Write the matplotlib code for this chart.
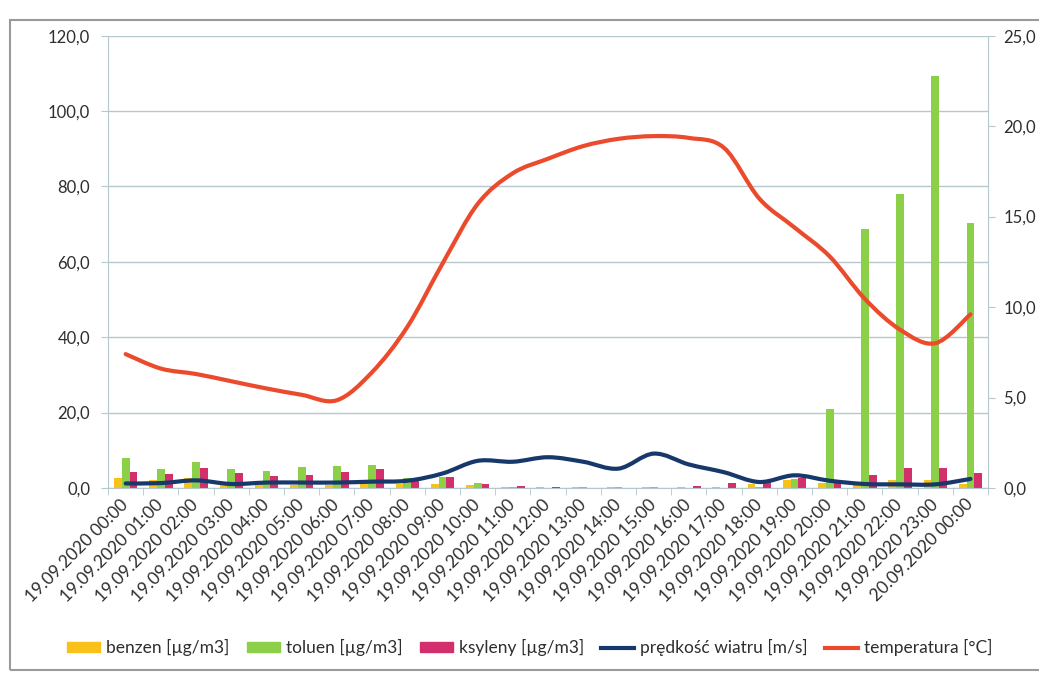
import numpy as np
import matplotlib
matplotlib.use("Agg")
import matplotlib.pyplot as plt
from matplotlib.path import Path
from matplotlib.patches import PathPatch, Patch, Rectangle
from matplotlib.lines import Line2D
from matplotlib.ticker import FuncFormatter

plt.rcParams['font.family'] = ['Lato', 'DejaVu Sans']

# data
labels = ["19.09.2020 %02d:00" % h for h in range(24)] + ["20.09.2020 00:00"]

benzen = [2.7, 2.1, 2.7, 1.7, 1.3, 0.9, 0.9, 1.6, 1.0, 1.1, 0.9, 0.3, 0.2, 0.2, 0.2,
          0.3, 0.2, 0.2, 1.1, 2.2, 1.3, 1.7, 2.1, 2.0, 1.1]
toluen = [8.0, 5.0, 6.8, 5.0, 4.5, 5.6, 5.8, 6.1, 2.7, 2.9, 1.3, 0.2, 0.1, 0.2, 0.2,
          0.2, 0.1, 0.1, 0.3, 2.5, 21.0, 68.8, 78.1, 109.3, 70.4]
ksyleny = [4.3, 3.6, 5.2, 4.0, 3.1, 3.4, 4.3, 5.0, 2.7, 2.9, 1.0, 0.5, 0.2, 0.1, 0.1,
           0.1, 0.4, 1.3, 2.0, 2.7, 1.3, 3.4, 5.2, 5.3, 4.0]
wiatr = [0.25, 0.27, 0.42, 0.22, 0.3, 0.3, 0.3, 0.35, 0.4, 0.8, 1.5, 1.45, 1.7, 1.45,
         1.07, 1.9, 1.3, 0.87, 0.33, 0.7, 0.4, 0.22, 0.2, 0.2, 0.5]
temperatura = [7.4, 6.6, 6.3, 5.9, 5.5, 5.15, 4.85, 6.4, 8.9, 12.4, 15.7, 17.4, 18.2,
               18.9, 19.3, 19.45, 19.35, 18.8, 16.0, 14.4, 12.8, 10.45, 8.75, 8.0, 9.6]

c_benz = '#F8C21A'
c_tol = '#8CCF48'
c_ksy = '#D22F6C'
c_wind = '#17386B'
c_temp = '#EB4A2C'
c_grid = '#B4C8CE'
c_text = '#2E2E2E'


def smooth_path(xs, ys):
    # excel-like smoothed line: bezier through the points
    pts = np.column_stack([xs, ys]).astype(float)
    verts = [pts[0]]
    codes = [Path.MOVETO]
    n = len(pts)
    for i in range(n - 1):
        p0 = pts[i - 1] if i > 0 else pts[i]
        p1 = pts[i]
        p2 = pts[i + 1]
        p3 = pts[i + 2] if i + 2 < n else pts[i + 1]
        verts += [p1 + (p2 - p0) / 6, p2 - (p3 - p1) / 6, p2]
        codes += [Path.CURVE4] * 3
    return Path(verts, codes)


fig = plt.figure(figsize=(10.39, 6.74), dpi=100)
ax = fig.add_axes([0.104, 0.276, 0.847, 0.671])

x = np.arange(len(labels))
w = 0.222
ax.bar(x - w, benzen, w, color=c_benz, zorder=2)
ax.bar(x, toluen, w, color=c_tol, zorder=2)
ax.bar(x + w, ksyleny, w, color=c_ksy, zorder=2)

ax.set_xlim(-0.5, len(labels) - 0.5)
ax.set_ylim(0, 120)
ax.set_yticks(np.arange(0, 121, 20))
fmt = FuncFormatter(lambda v, p: ("%.1f" % v).replace('.', ','))
ax.yaxis.set_major_formatter(fmt)
ax.grid(axis='y', color=c_grid, lw=1.0, zorder=0)
ax.set_axisbelow(True)

ax.set_xticks(x)
ax.set_xticklabels(labels, rotation=45, ha='right', va='center',
                   rotation_mode='anchor', fontsize=12.5, color=c_text)
ax.set_xticks(np.arange(-0.5, len(labels), 1), minor=True)
ax.tick_params(axis='x', which='major', length=0, pad=10)
ax.tick_params(axis='x', which='minor', length=5, color=c_grid)
ax.tick_params(axis='y', length=5, color=c_grid, labelsize=12, labelcolor=c_text, pad=8)

for s in ['top', 'right']:
    ax.spines[s].set_visible(False)
for s in ['left', 'bottom']:
    ax.spines[s].set_color(c_grid)

ax2 = ax.twinx()
ax2.set_ylim(0, 25)
ax2.set_yticks(np.arange(0, 26, 5))
ax2.yaxis.set_major_formatter(fmt)
ax2.tick_params(axis='y', length=5, color=c_grid, labelsize=12, labelcolor=c_text, pad=6)
for s in ['top', 'left', 'bottom']:
    ax2.spines[s].set_visible(False)
ax2.spines['right'].set_color(c_grid)

ax2.add_patch(PathPatch(smooth_path(x, wiatr), fill=False, ec=c_wind, lw=3, zorder=3,
                        capstyle='round'))
ax2.add_patch(PathPatch(smooth_path(x, temperatura), fill=False, ec=c_temp, lw=3, zorder=3,
                        capstyle='round'))

handles = [
    Patch(color=c_benz, label='benzen [µg/m3]'),
    Patch(color=c_tol, label='toluen [µg/m3]'),
    Patch(color=c_ksy, label='ksyleny [µg/m3]'),
    Line2D([], [], color=c_wind, lw=3, label='prędkość wiatru [m/s]'),
    Line2D([], [], color=c_temp, lw=3, label='temperatura [°C]'),
]
fig.legend(handles=handles, loc='center', bbox_to_anchor=(0.51, 0.039), ncol=5,
           frameon=False, fontsize=12.5, handlelength=1.9, handleheight=0.45,
           handletextpad=0.35, columnspacing=1.0, labelcolor=c_text)

# outer chart border
fig.patches.append(Rectangle((0.0096, 0.006), 1.2, 0.964, transform=fig.transFigure,
                             fill=False, ec='#9A9A9A', lw=1.5))

fig.savefig('out.png', dpi=100, facecolor='white')
